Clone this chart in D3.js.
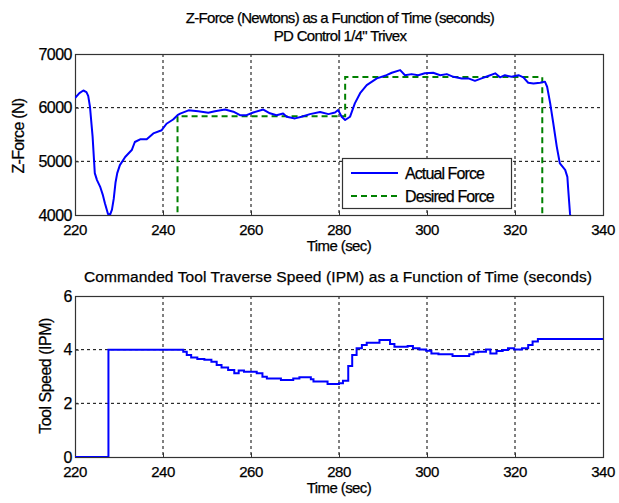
<!DOCTYPE html>
<html>
<head>
<meta charset="utf-8">
<script src="https://cdn.jsdelivr.net/npm/d3@7"></script>
<style>
body { margin: 0; background: #fff; }
text { font-family: Arial, "Liberation Sans", sans-serif; fill: #000; stroke: #000; stroke-width: 0.25px; }
</style>
</head>
<body>
<div id="main_output"></div>
<script>
// ---- data ----
var forceTime = [220, 221.0, 221.9, 222.6, 223.0, 223.4, 224.0, 224.5, 225.0, 225.7, 226.3, 226.8, 227.5, 228.0, 228.4, 228.8, 229.2, 229.6, 230.2, 231.4, 232.2, 232.9, 233.6, 234.8, 236.3, 237.8, 239.7, 240.8, 242.3, 243.3, 243.9, 245.8, 248.0, 250.3, 251.8, 254.1, 256.0, 257.5, 259.0, 260.5, 262.8, 264.3, 265.8, 267.3, 268.1, 270.0, 271.5, 273.4, 275.7, 277.6, 279.1, 279.8, 280.6, 281.4, 282.5, 283.6, 284.8, 286.3, 288.6, 290.8, 292.0, 293.9, 295.0, 296.5, 298.0, 299.5, 301.4, 303.0, 304.5, 306.0, 307.9, 309.4, 310.9, 312.4, 313.9, 315.5, 316.6, 317.7, 319.2, 320.8, 321.9, 323.0, 324.2, 325.7, 326.8, 327.3, 328.0, 328.7, 329.5, 330.2, 331.4, 331.9, 332.1, 332.5, 332.6];
var forceValue = [6180, 6270, 6320, 6290, 6220, 6020, 5460, 4780, 4650, 4530, 4380, 4220, 4020, 4010, 4100, 4300, 4600, 4780, 4930, 5080, 5150, 5210, 5360, 5410, 5410, 5520, 5580, 5700, 5780, 5860, 5890, 5950, 5935, 5905, 5935, 5965, 5925, 5860, 5860, 5910, 5965, 5895, 5860, 5890, 5830, 5800, 5830, 5880, 5920, 5880, 5910, 5955, 5830, 5770, 5830, 6080, 6270, 6420, 6545, 6605, 6650, 6700, 6605, 6625, 6605, 6640, 6650, 6605, 6625, 6575, 6545, 6545, 6500, 6545, 6590, 6640, 6565, 6605, 6575, 6605, 6565, 6465, 6450, 6465, 6485, 6390, 6080, 5710, 5270, 4960, 4840, 4710, 4470, 4030, 3950];

var desiredTime = [220, 243.3, 281.4, 326.2, 340];
var desiredValue = [0, 5840, 6570, 0, 0];

var speedTime = [220, 227.6, 244.6, 245.4, 246.4, 247.8, 249.4, 251.0, 252.2, 253.3, 254.8, 256.2, 257.2, 258.4, 261.3, 262.6, 263.6, 266.8, 269.6, 271.0, 273.6, 274.2, 277.4, 280.0, 280.9, 282.1, 283.0, 284.0, 285.2, 286.3, 289.2, 291.6, 292.6, 295.6, 296.8, 298.3, 299.8, 301.0, 302.6, 305.8, 309.6, 310.6, 311.6, 313.4, 314.4, 315.8, 317.2, 318.4, 319.8, 321.6, 323.0, 324.0, 325.2, 340];
var speedValue = [0, 4.0, 3.92, 3.80, 3.71, 3.65, 3.62, 3.55, 3.43, 3.34, 3.24, 3.12, 3.22, 3.18, 3.12, 2.99, 2.93, 2.87, 2.93, 2.97, 2.90, 2.81, 2.72, 2.75, 2.84, 3.39, 3.80, 4.05, 4.17, 4.26, 4.36, 4.21, 4.11, 4.14, 4.05, 4.01, 3.96, 3.86, 3.83, 3.76, 3.83, 3.90, 3.92, 4.01, 3.86, 3.95, 3.99, 4.05, 4.01, 4.05, 4.17, 4.30, 4.40, 4.40];

var timeTicks = [220, 240, 260, 280, 300, 320, 340];
var forceTicks = [4000, 5000, 6000, 7000];
var speedTicks = [0, 2, 4, 6];

var legendLabels = ["Actual Force", "Desired Force"];

// ---- layout ----
var width = 619, height = 503;
var left = 75, right = 603;

var svg = d3.select("#main_output").append("svg")
  .attr("width", width)
  .attr("height", height);

var x = d3.scaleLinear().domain([220, 340]).range([left, right]);

var forceY = d3.scaleLinear().domain([4000, 7000]).range([215, 54]);
var speedY = d3.scaleLinear().domain([0, 6]).range([457, 296]);

function drawPanel(y, yTicks, id) {
  var top = y.range()[1], bottom = y.range()[0];
  var g = svg.append("g");

  // grid (dotted)
  g.selectAll(".vgrid").data(timeTicks.slice(1, -1)).enter().append("line")
    .attr("x1", function(d) { return x(d); }).attr("x2", function(d) { return x(d); })
    .attr("y1", top).attr("y2", bottom)
    .attr("stroke", "#000").attr("stroke-width", 1).attr("stroke-dasharray", "3,3");
  g.selectAll(".hgrid").data(yTicks.slice(1, -1)).enter().append("line")
    .attr("x1", left).attr("x2", right)
    .attr("y1", function(d) { return y(d); }).attr("y2", function(d) { return y(d); })
    .attr("stroke", "#000").attr("stroke-width", 1).attr("stroke-dasharray", "3,3");

  // clip
  svg.append("clipPath").attr("id", id)
    .append("rect").attr("x", left).attr("y", top)
    .attr("width", right - left).attr("height", bottom - top);

  // axes (ticks point inward like matlab)
  var xAxis = d3.axisBottom(x).tickValues(timeTicks).tickSize(-4).tickFormat("");
  var yAxis = d3.axisLeft(y).tickValues(yTicks).tickSize(-4).tickFormat("");
  g.append("g").attr("transform", "translate(0," + bottom + ")").call(xAxis)
    .call(function(s) { s.select(".domain").remove(); s.selectAll("line").attr("stroke", "#333"); });
  g.append("g").attr("transform", "translate(" + left + ",0)").call(yAxis)
    .call(function(s) { s.select(".domain").remove(); s.selectAll("line").attr("stroke", "#333"); });

  // frame
  g.append("rect")
    .attr("x", left + 0.5).attr("y", top + 0.5)
    .attr("width", right - left).attr("height", bottom - top)
    .attr("fill", "none").attr("stroke", "#333").attr("stroke-width", 1.2);

  // tick labels
  g.selectAll(".xlab").data(timeTicks).enter().append("text")
    .attr("x", function(d) { return x(d); })
    .attr("y", bottom + 20)
    .attr("text-anchor", "middle")
    .attr("font-size", "15px")
    .attr("letter-spacing", "-0.5px")
    .text(function(d) { return d; });
  g.selectAll(".ylab").data(yTicks).enter().append("text")
    .attr("x", left - 3)
    .attr("y", function(d) { return y(d); })
    .attr("dy", "0.36em")
    .attr("text-anchor", "end")
    .attr("font-size", "16px")
    .attr("letter-spacing", "-0.5px")
    .text(function(d) { return d; });

  // x axis title
  g.append("text")
    .attr("x", (left + right) / 2)
    .attr("y", bottom + 36)
    .attr("text-anchor", "middle")
    .attr("font-size", "15px")
    .attr("letter-spacing", "-0.6px")
    .text("Time (sec)");
  return g;
}

// --------------------- Z-Force panel ---------------------
var p1 = drawPanel(forceY, forceTicks, "clipTop");

var forceLine = d3.line()
  .x(function(d, i) { return x(forceTime[i]); })
  .y(function(d) { return forceY(d); });

var desiredLine = d3.line()
  .x(function(d, i) { return x(desiredTime[i]); })
  .y(function(d) { return forceY(d); })
  .curve(d3.curveStepAfter);

p1.append("path")
  .datum(desiredValue)
  .attr("clip-path", "url(#clipTop)")
  .attr("fill", "none")
  .attr("stroke", "#008000")
  .attr("stroke-width", 2)
  .attr("stroke-dasharray", "6,4")
  .attr("d", desiredLine);

p1.append("path")
  .datum(forceValue)
  .attr("clip-path", "url(#clipTop)")
  .attr("fill", "none")
  .attr("stroke", "#0000ff")
  .attr("stroke-width", 2)
  .attr("stroke-linejoin", "round")
  .attr("d", forceLine);

// y label
svg.append("text")
  .attr("transform", "translate(24,136) rotate(-90)")
  .attr("text-anchor", "middle")
  .attr("font-size", "16px")
  .attr("letter-spacing", "-0.7px")
  .text("Z-Force (N)");

// titles
svg.append("text")
  .attr("x", 340).attr("y", 23)
  .attr("text-anchor", "middle")
  .attr("font-size", "15px")
  .attr("letter-spacing", "-0.7px")
  .text("Z-Force (Newtons) as a Function of Time (seconds)");
svg.append("text")
  .attr("x", 340).attr("y", 41)
  .attr("text-anchor", "middle")
  .attr("font-size", "15px")
  .attr("letter-spacing", "-0.7px")
  .text("PD Control 1/4\" Trivex");

// legend
var legend = svg.append("g");
legend.append("rect")
  .attr("x", 342.5).attr("y", 158.5)
  .attr("width", 169).attr("height", 50)
  .attr("fill", "#fff").attr("stroke", "#333").attr("stroke-width", 1.2);
var legendStyles = [
  {stroke: "#0000ff", dash: null},
  {stroke: "#008000", dash: "6,4"}
];
legend.selectAll(".item").data(legendLabels).enter().append("g")
  .each(function(d, i) {
    var gy = 173 + i * 23;
    var it = d3.select(this);
    it.append("line")
      .attr("x1", 351).attr("x2", 398)
      .attr("y1", gy).attr("y2", gy)
      .attr("stroke", legendStyles[i].stroke)
      .attr("stroke-width", 2)
      .attr("stroke-dasharray", legendStyles[i].dash);
    it.append("text")
      .attr("x", 405).attr("y", gy)
      .attr("dy", "0.36em")
      .attr("font-size", "16px")
      .attr("letter-spacing", "-0.9px")
      .text(d);
  });

// --------------------- Speed panel ---------------------
var p2 = drawPanel(speedY, speedTicks, "clipBottom");

var speedLine = d3.line()
  .x(function(d, i) { return x(speedTime[i]); })
  .y(function(d) { return speedY(d); })
  .curve(d3.curveStepAfter);

p2.append("path")
  .datum(speedValue)
  .attr("clip-path", "url(#clipBottom)")
  .attr("fill", "none")
  .attr("stroke", "#0000ff")
  .attr("stroke-width", 2)
  .attr("d", speedLine);

svg.append("text")
  .attr("transform", "translate(51,376) rotate(-90)")
  .attr("text-anchor", "middle")
  .attr("font-size", "16px")
  .attr("letter-spacing", "-0.5px")
  .text("Tool Speed (IPM)");

svg.append("text")
  .attr("x", 338).attr("y", 282)
  .attr("text-anchor", "middle")
  .attr("font-size", "15.5px")
  .attr("textLength", 508)
  .attr("lengthAdjust", "spacing")
  .text("Commanded Tool Traverse Speed (IPM) as a Function of Time (seconds)");
</script>
</body>
</html>
